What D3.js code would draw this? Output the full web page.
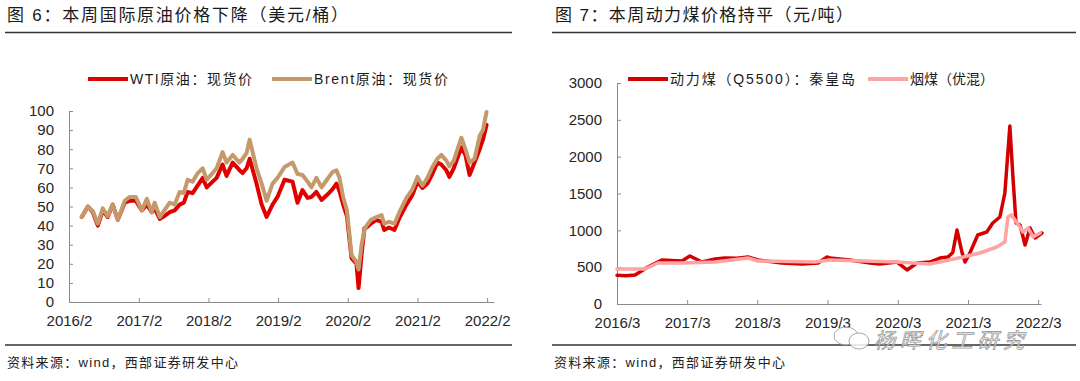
<!DOCTYPE html>
<html>
<head>
<meta charset="utf-8">
<script src="https://d3js.org/d3.v7.min.js"></script>
<style>
  body { margin: 0; background: #fff; }
  text { font-family: "Liberation Sans", "Noto Sans CJK SC", sans-serif; }
</style>
</head>
<body>
<svg id="chart" width="1080" height="381"></svg>
<script>
// ---- data: crude oil, USD/bbl ----
var oilDates = [
  "2016-04-08","2016-05-10","2016-06-05","2016-07-01","2016-07-27","2016-08-22","2016-09-17","2016-10-14","2016-11-19","2016-12-15",
  "2017-01-16","2017-02-17","2017-03-15","2017-04-10","2017-04-25","2017-05-22","2017-06-15","2017-07-13","2017-08-08","2017-09-03","2017-09-25","2017-10-15","2017-11-10","2017-12-07",
  "2018-01-02","2018-01-23","2018-02-23","2018-03-16","2018-04-16","2018-05-07","2018-06-08","2018-07-14","2018-07-30","2018-08-20","2018-09-05","2018-10-11","2018-11-07","2018-12-03",
  "2019-01-03","2019-01-29","2019-03-07","2019-04-18","2019-05-14","2019-06-09","2019-07-06","2019-07-26","2019-08-21","2019-09-17","2019-10-15","2019-11-13","2019-12-04","2019-12-20",
  "2020-01-08","2020-01-28","2020-02-21","2020-03-18","2020-03-29","2020-04-14","2020-04-29","2020-05-10","2020-06-01","2020-07-01","2020-07-28","2020-08-10","2020-09-05","2020-10-03","2020-10-29","2020-12-05",
  "2021-01-05","2021-02-01","2021-02-27","2021-03-25","2021-04-20","2021-05-16","2021-06-06","2021-07-02","2021-07-18","2021-08-10","2021-09-19","2021-10-10","2021-11-01","2021-11-27","2021-12-24",
  "2022-01-10","2022-01-29"
]
var wti = [
  44.5,50,47,40,48,44.5,51,43,52,53,
  53,48,51,47,49,43.5,45,47,48,51,52,57.6,57,61,
  65,60,63,65,72,66,73,69,67.5,70,75,62,51,44.5,
  51,55,64,63,52,58.6,54.5,55,57.6,53.4,56,59,62,58,
  51,45,23,20,7.3,25,38.7,39,41,43,42,37.7,39,37.7,44,51,
  56,63,59.7,62,67,73,72,69,65.5,70,81,77,66.5,73,80,
  85,92.7
]
var brent = [
  44.5,50,47.5,41,49,45,51,43,53,55,
  55,48,54,47,52,44.5,48,52,51,57.6,57,64,63,67.5,
  70,64,67.5,70,78.5,73,77,73,75,78,85,70,62,53,
  62,65,70.7,73,67,66.5,63,60,65,60,64,68,69,65,
  55,48,24.6,21,17,30,38,40,43,44.5,45.5,41,42,41,47,54.5,
  59,65.5,61,65,70.7,75,77,74,71,74,86,80,73,75,87,
  90,99.5
]
var oilTickLabels = ["2016/2","2017/2","2018/2","2019/2","2020/2","2021/2","2022/2"]
var oilYTicks = [0,10,20,30,40,50,60,70,80,90,100]

// ---- data: thermal coal, CNY/t ----
var q5500Dates = [
  "2016-03-01","2016-04-15","2016-06-03","2016-08-09","2016-10-20","2016-12-10",
  "2017-02-02","2017-03-15","2017-05-17","2017-07-24","2017-09-14","2017-11-15",
  "2018-01-12","2018-03-04","2018-07-07","2018-10-19",
  "2019-01-11","2019-02-27","2019-03-13","2019-06-25","2019-10-08","2019-11-29",
  "2020-02-26","2020-04-18","2020-06-09","2020-08-15","2020-10-06","2020-11-17","2020-12-12",
  "2021-01-03","2021-01-30","2021-02-14","2021-03-11","2021-04-21","2021-06-07","2021-07-08","2021-08-14","2021-09-09","2021-10-05","2021-10-21","2021-11-06","2021-11-27","2021-12-23",
  "2022-01-18","2022-02-13","2022-03-21"
]
var q5500 = [
  390,385,395,502,597,590,
  584,651,570,611,624,620,
  638,597,557,543,
  557,638,624,597,557,543,
  570,462,557,570,624,638,700,
  1004,692,570,692,937,977,1100,1181,1507,2416,1724,1100,1072,801,
  1031,896,964
]
var yanmeiDates = [
  "2016-03-01","2016-07-24","2016-09-30","2017-02-02","2017-07-24","2018-01-12","2018-03-04","2018-12-26",
  "2019-03-13","2020-02-26","2020-08-15","2021-02-04","2021-05-02","2021-07-29","2021-09-09","2021-09-25",
  "2021-10-12","2021-11-27","2021-12-12","2022-01-08","2022-02-03","2022-03-11"
]
var yanmei = [
  475,475,557,557,570,624,584,570,
  597,570,543,638,692,774,842,1181,
  1210,1045,977,1031,910,964
]
var coalTickLabels = ["2016/3","2017/3","2018/3","2019/3","2020/3","2021/3","2022/3"]
var coalYTicks = [0,500,1000,1500,2000,2500,3000]

var parseDay = d3.timeParse("%Y-%m-%d")
var parseTick = d3.timeParse("%Y/%m")

function zip(dates, vals){
  return dates.map(function(d,i){ return {date: parseDay(d), value: vals[i]} })
}

var svg = d3.select('#chart')

var panels = [
  {
    title: "图 6：本周国际原油价格下降（美元/桶）", titleX: 7, titleW: 341,
    ruleX: [5, 512],
    sourceX: 7,
    xRange: [69, 494], xEnd: "2022-03-09",
    yRange: [302, 111], yMax: 100, yTicks: oilYTicks,
    tickLabels: oilTickLabels,
    series: [
      {name: "WTI原油：现货价", color: "#e00000", data: zip(oilDates, wti), width: 4, lx: 88, tw: 122},
      {name: "Brent原油：现货价", color: "#c49a6c", data: zip(oilDates, brent), width: 4, lx: 272, tw: 134}
    ]
  },
  {
    title: "图 7：本周动力煤价格持平（元/吨）", titleX: 555, titleW: 298,
    ruleX: [552, 1076],
    sourceX: 554,
    xRange: [617, 1041], xEnd: "2022-03-16",
    yRange: [304, 83], yMax: 3000, yTicks: coalYTicks,
    tickLabels: coalTickLabels,
    series: [
      {name: "动力煤（Q5500）：秦皇岛", color: "#d20000", data: zip(q5500Dates, q5500), width: 3.5, lx: 628, tw: 185},
      {name: "烟煤（优混）", color: "#ffa3a3", data: zip(yanmeiDates, yanmei), width: 3.5, lx: 868, tw: 84}
    ]
  }
]

panels.forEach(function(p){
  var g = svg.append('g')

  // title + rules
  g.append('text').attr('x', p.titleX).attr('y', 21)
    .attr('font-size', 17).attr('fill', '#1a1a1a')
    .attr('font-family', '"Noto Sans CJK SC", sans-serif')
    .attr('textLength', p.titleW).attr('lengthAdjust', 'spacing')
    .text(p.title)
  g.append('line').attr('x1', p.ruleX[0]).attr('x2', p.ruleX[1]).attr('y1', 32.5).attr('y2', 32.5)
    .attr('stroke', '#333').attr('stroke-width', 1.5)
  g.append('line').attr('x1', p.ruleX[0]).attr('x2', p.ruleX[1]).attr('y1', 345).attr('y2', 345)
    .attr('stroke', '#333').attr('stroke-width', 1.5)
  g.append('text').attr('x', p.sourceX).attr('y', 367)
    .attr('font-size', 13).attr('fill', '#222')
    .attr('textLength', 231).attr('lengthAdjust', 'spacing')
    .text("资料来源：wind，西部证券研发中心")

  var ticks = p.tickLabels.map(parseTick)
  var x = d3.scaleTime().domain([ticks[0], parseDay(p.xEnd)]).range(p.xRange)
  var y = d3.scaleLinear().domain([0, p.yMax]).range(p.yRange)

  var xAxis = g.append('g').attr('transform', 'translate(0,' + p.yRange[0] + ')')
    .call(d3.axisBottom(x).tickValues(ticks).tickFormat(function(d,i){ return p.tickLabels[i] })
      .tickSizeInner(-4).tickSizeOuter(0).tickPadding(13))
  var yAxis = g.append('g').attr('transform', 'translate(' + p.xRange[0] + ',0)')
    .call(d3.axisLeft(y).tickValues(p.yTicks).tickFormat(d3.format('d'))
      .tickSizeInner(-4).tickSizeOuter(0).tickPadding(15))

  ;[xAxis, yAxis].forEach(function(a){
    a.select('.domain').attr('stroke', '#8c8c8c')
    a.selectAll('.tick line').attr('stroke', '#8c8c8c')
    a.selectAll('.tick text').attr('font-size', 15).attr('fill', '#262626')
      .attr('font-family', '"Liberation Sans", Arial, sans-serif')
  })

  var line = d3.line().x(function(d){ return x(d.date) }).y(function(d){ return y(d.value) })

  p.series.forEach(function(s){
    g.append('path').datum(s.data)
      .attr('d', line)
      .attr('fill', 'none')
      .attr('stroke', s.color)
      .attr('stroke-width', s.width)
      .attr('stroke-linejoin', 'round')
      .attr('stroke-linecap', 'round')

    // legend
    g.append('line').attr('x1', s.lx).attr('x2', s.lx + 40).attr('y1', 79).attr('y2', 79)
      .attr('stroke', s.color).attr('stroke-width', 4)
    g.append('text').attr('x', s.lx + 42).attr('y', 84)
      .attr('font-size', 14).attr('fill', '#1a1a1a')
      .attr('textLength', s.tw).attr('lengthAdjust', 'spacing')
      .text(s.name)
  })
})

// watermark sitting on the right footer rule
var wm = svg.append('g').attr('opacity', 0.85)
wm.append('ellipse').attr('cx', 846).attr('cy', 336).attr('rx', 12).attr('ry', 9)
  .attr('fill', '#fff').attr('stroke', '#9a9a9a').attr('stroke-width', 1)
wm.append('ellipse').attr('cx', 859).attr('cy', 341).attr('rx', 10).attr('ry', 8)
  .attr('fill', '#fff').attr('stroke', '#9a9a9a').attr('stroke-width', 1)
wm.append('text').attr('x', 874).attr('y', 348)
  .attr('font-size', 21).attr('font-style', 'italic')
  .attr('font-family', '"Noto Sans CJK SC", sans-serif')
  .attr('fill', '#fff').attr('stroke', '#8a8a8a').attr('stroke-width', 0.8)
  .attr('textLength', 150).attr('lengthAdjust', 'spacing')
  .text("杨晖化工研究")
</script>
</body>
</html>
